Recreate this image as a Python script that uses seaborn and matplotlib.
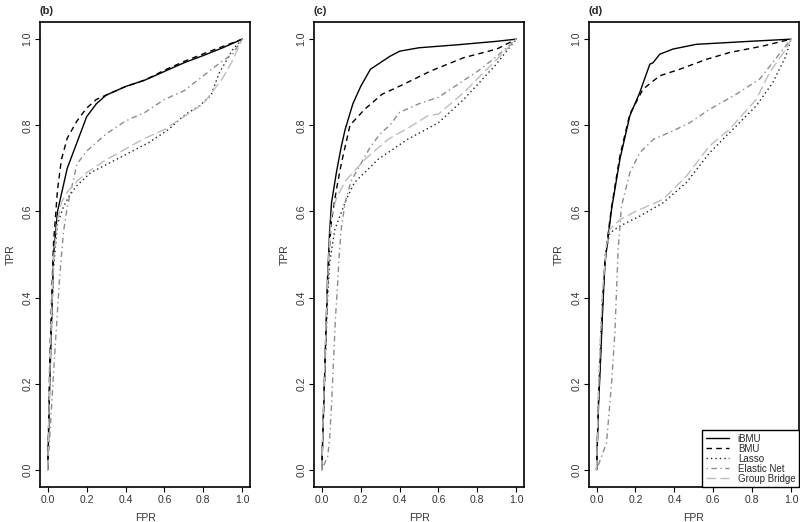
import numpy as np
import pandas as pd
import matplotlib
matplotlib.use("Agg")
import matplotlib.pyplot as plt
import seaborn as sns

sns.set_theme(style="ticks")
plt.rcParams["font.family"] = ["Liberation Sans", "DejaVu Sans"]

# Curvas ROC (FPR, TPR) para cada painel
methods = ["iBMU", "BMU", "Lasso", "Elastic Net", "Group Bridge"]

# painel (b)
b_ibmu_fpr = [0, 0.01, 0.02, 0.03, 0.05, 0.07, 0.10, 0.15, 0.20, 0.25, 0.30, 0.40, 0.50, 0.60, 0.70, 0.80, 0.90, 1.0]
b_ibmu_tpr = [0, 0.20, 0.35, 0.50, 0.60, 0.64, 0.70, 0.76, 0.82, 0.85, 0.87, 0.89, 0.905, 0.925, 0.945, 0.962, 0.98, 1.0]
b_bmu_fpr = [0, 0.01, 0.02, 0.03, 0.05, 0.07, 0.10, 0.15, 0.20, 0.25, 0.30, 0.40, 0.50, 0.60, 0.70, 0.80, 0.90, 1.0]
b_bmu_tpr = [0, 0.25, 0.40, 0.53, 0.65, 0.72, 0.77, 0.81, 0.84, 0.86, 0.87, 0.89, 0.905, 0.928, 0.948, 0.966, 0.983, 1.0]
b_lasso_fpr = [0, 0.01, 0.02, 0.03, 0.05, 0.08, 0.11, 0.15, 0.22, 0.35, 0.52, 0.62, 0.71, 0.78, 0.84, 0.88, 0.95, 1.0]
b_lasso_tpr = [0, 0.20, 0.35, 0.47, 0.57, 0.61, 0.636, 0.66, 0.69, 0.72, 0.76, 0.79, 0.826, 0.845, 0.87, 0.92, 0.975, 1.0]
b_en_fpr = [0, 0.02, 0.04, 0.06, 0.08, 0.10, 0.15, 0.20, 0.30, 0.40, 0.50, 0.60, 0.70, 0.80, 0.90, 0.95, 1.0]
b_en_tpr = [0, 0.15, 0.30, 0.44, 0.55, 0.61, 0.71, 0.74, 0.78, 0.81, 0.83, 0.86, 0.88, 0.915, 0.95, 0.965, 1.0]
b_gb_fpr = [0, 0.01, 0.02, 0.03, 0.05, 0.07, 0.10, 0.15, 0.20, 0.30, 0.40, 0.50, 0.60, 0.70, 0.80, 0.90, 0.95, 1.0]
b_gb_tpr = [0, 0.22, 0.37, 0.49, 0.58, 0.62, 0.645, 0.67, 0.69, 0.72, 0.745, 0.77, 0.79, 0.82, 0.85, 0.91, 0.95, 1.0]

# painel (c)
c_ibmu_fpr = [0, 0.01, 0.02, 0.03, 0.04, 0.05, 0.075, 0.10, 0.12, 0.16, 0.20, 0.25, 0.30, 0.35, 0.40, 0.50, 0.70, 0.90, 1.0]
c_ibmu_tpr = [0, 0.15, 0.30, 0.45, 0.55, 0.62, 0.69, 0.75, 0.79, 0.85, 0.89, 0.93, 0.945, 0.96, 0.972, 0.98, 0.987, 0.995, 1.0]
c_bmu_fpr = [0, 0.01, 0.02, 0.03, 0.04, 0.05, 0.075, 0.10, 0.12, 0.145, 0.22, 0.31, 0.42, 0.56, 0.73, 0.90, 1.0]
c_bmu_tpr = [0, 0.15, 0.30, 0.43, 0.52, 0.58, 0.65, 0.71, 0.75, 0.80, 0.837, 0.872, 0.895, 0.926, 0.957, 0.977, 1.0]
c_lasso_fpr = [0, 0.01, 0.02, 0.03, 0.04, 0.067, 0.126, 0.168, 0.29, 0.44, 0.60, 0.73, 0.89, 1.0]
c_lasso_tpr = [0, 0.15, 0.28, 0.40, 0.48, 0.558, 0.628, 0.667, 0.721, 0.767, 0.806, 0.86, 0.938, 1.0]
c_en_fpr = [0, 0.03, 0.04, 0.05, 0.06, 0.07, 0.08, 0.09, 0.10, 0.12, 0.15, 0.20, 0.25, 0.30, 0.35, 0.40, 0.50, 0.60, 0.70, 0.80, 0.90, 1.0]
c_en_tpr = [0, 0.03, 0.07, 0.15, 0.25, 0.35, 0.42, 0.50, 0.56, 0.62, 0.67, 0.71, 0.75, 0.78, 0.80, 0.83, 0.85, 0.865, 0.895, 0.925, 0.96, 1.0]
c_gb_fpr = [0, 0.01, 0.02, 0.03, 0.04, 0.05, 0.075, 0.12, 0.22, 0.34, 0.46, 0.545, 0.60, 0.73, 0.90, 1.0]
c_gb_tpr = [0, 0.16, 0.31, 0.44, 0.53, 0.59, 0.63, 0.67, 0.72, 0.767, 0.798, 0.822, 0.826, 0.876, 0.953, 1.0]

# painel (d)
d_ibmu_fpr = [0, 0.01, 0.02, 0.03, 0.043, 0.077, 0.12, 0.171, 0.222, 0.274, 0.29, 0.325, 0.393, 0.513, 0.75, 1.0]
d_ibmu_tpr = [0, 0.15, 0.25, 0.36, 0.48, 0.605, 0.721, 0.822, 0.876, 0.942, 0.945, 0.965, 0.977, 0.988, 0.994, 1.0]
d_bmu_fpr = [0, 0.01, 0.02, 0.03, 0.043, 0.077, 0.12, 0.171, 0.239, 0.325, 0.427, 0.564, 0.684, 0.855, 1.0]
d_bmu_tpr = [0, 0.16, 0.27, 0.37, 0.49, 0.61, 0.729, 0.826, 0.884, 0.915, 0.93, 0.953, 0.969, 0.984, 1.0]
d_lasso_fpr = [0, 0.01, 0.02, 0.03, 0.05, 0.068, 0.12, 0.222, 0.342, 0.462, 0.581, 0.684, 0.821, 0.906, 0.974, 1.0]
d_lasso_tpr = [0, 0.18, 0.30, 0.40, 0.51, 0.55, 0.566, 0.589, 0.62, 0.667, 0.736, 0.783, 0.845, 0.899, 0.961, 1.0]
d_en_fpr = [0, 0.051, 0.077, 0.094, 0.111, 0.128, 0.171, 0.222, 0.291, 0.393, 0.479, 0.581, 0.718, 0.838, 0.906, 1.0]
d_en_tpr = [0, 0.062, 0.20, 0.318, 0.512, 0.612, 0.69, 0.736, 0.767, 0.787, 0.806, 0.837, 0.872, 0.907, 0.946, 1.0]
d_gb_fpr = [0, 0.01, 0.02, 0.03, 0.05, 0.068, 0.12, 0.205, 0.342, 0.462, 0.581, 0.684, 0.821, 0.889, 0.974, 1.0]
d_gb_tpr = [0, 0.18, 0.31, 0.41, 0.52, 0.558, 0.581, 0.601, 0.628, 0.682, 0.752, 0.791, 0.86, 0.922, 0.977, 1.0]

panels = {
    "(b)": [(b_ibmu_fpr, b_ibmu_tpr), (b_bmu_fpr, b_bmu_tpr), (b_lasso_fpr, b_lasso_tpr),
            (b_en_fpr, b_en_tpr), (b_gb_fpr, b_gb_tpr)],
    "(c)": [(c_ibmu_fpr, c_ibmu_tpr), (c_bmu_fpr, c_bmu_tpr), (c_lasso_fpr, c_lasso_tpr),
            (c_en_fpr, c_en_tpr), (c_gb_fpr, c_gb_tpr)],
    "(d)": [(d_ibmu_fpr, d_ibmu_tpr), (d_bmu_fpr, d_bmu_tpr), (d_lasso_fpr, d_lasso_tpr),
            (d_en_fpr, d_en_tpr), (d_gb_fpr, d_gb_tpr)],
}

# estilo de cada método (cor, tracejado)
cores = ["black", "black", "#222222", "#8c8c8c", "#bdbdbd"]
tracos = ["-", (0, (4, 3)), (0, (1, 2.2)), (0, (1, 2.5, 4, 2.5)), (0, (7, 3))]

fig = plt.figure(figsize=(8, 5.22), dpi=100)
lefts = [0.05, 0.3925, 0.736]
ticks = np.arange(0, 1.01, 0.2)
tick_labels = [f"{v:.1f}" for v in ticks]

for left, (titulo, curvas) in zip(lefts, panels.items()):
    ax = fig.add_axes([left, 0.067, 0.2625, 0.891])
    for metodo, (fpr, tpr), cor, ls in zip(methods, curvas, cores, tracos):
        df = pd.DataFrame({"FPR": fpr, "TPR": tpr})
        sns.lineplot(data=df, x="FPR", y="TPR", ax=ax, color=cor, linestyle=ls,
                     linewidth=1.0, estimator=None, sort=False, label=metodo)
    ax.set_xlim(-0.04, 1.04)
    ax.set_ylim(-0.04, 1.04)
    ax.set_xticks(ticks)
    ax.set_yticks(ticks)
    ax.set_xticklabels(tick_labels, fontsize=7.5, color="#333333")
    ax.set_yticklabels(tick_labels, fontsize=7.5, color="#333333",
                       rotation=90, va="center")
    ax.tick_params(direction="out", length=3.5, width=0.8, color="black", pad=2)
    for s in ax.spines.values():
        s.set_color("black")
        s.set_linewidth(1.2)
        s.set_visible(True)
    ax.set_xlabel("FPR", fontsize=7.5, labelpad=6, color="#333333")
    ax.set_ylabel("TPR", fontsize=7.5, labelpad=5, color="#333333")
    ax.set_title(titulo, loc="left", fontsize=8, fontweight="bold", pad=6)
    if titulo == "(d)":
        leg = ax.legend(loc="lower right", fontsize=7, frameon=True, fancybox=False,
                        framealpha=1, borderaxespad=0, handlelength=2.4,
                        handletextpad=0.9, labelspacing=0.0, borderpad=0.35)
        leg.get_frame().set_edgecolor("black")
        leg.get_frame().set_linewidth(1.0)
    else:
        ax.get_legend().remove()

fig.savefig("out.png", dpi=100)
